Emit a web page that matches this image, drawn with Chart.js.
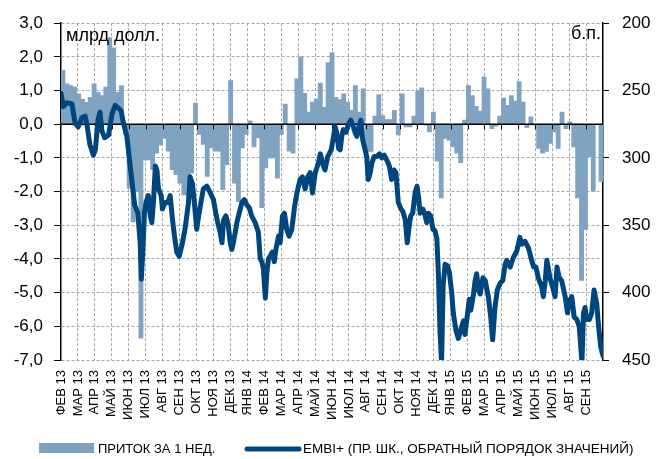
<!DOCTYPE html>
<html>
<head>
<meta charset="utf-8">
<title>Притоки и EMBI+</title>
<script src="https://cdn.jsdelivr.net/npm/chart.js@4.4.1/dist/chart.umd.min.js"></script>
<style>
  html, body { margin: 0; padding: 0; background: #fff; }
  #wrap { width: 656px; height: 459px; }
</style>
</head>
<body>
<div id="wrap"><canvas id="flowsChart" width="656" height="459"></canvas></div>
<script>
// подписи месяцев на оси X
const monthLabels = ['ФЕВ 13', 'МАР 13', 'АПР 13', 'МАЙ 13', 'ИЮН 13', 'ИЮЛ 13', 'АВГ 13', 'СЕН 13',
  'ОКТ 13', 'НОЯ 13', 'ДЕК 13', 'ЯНВ 14', 'ФЕВ 14', 'МАР 14', 'АПР 14', 'МАЙ 14', 'ИЮН 14', 'ИЮЛ 14',
  'АВГ 14', 'СЕН 14', 'ОКТ 14', 'НОЯ 14', 'ДЕК 14', 'ЯНВ 15', 'ФЕВ 15', 'МАР 15', 'АПР 15', 'МАЙ 15',
  'ИЮН 15', 'ИЮЛ 15', 'АВГ 15', 'СЕН 15'];

// приток за неделю, млрд долл. (одно значение на неделю)
const weeklyFlows = [
  1.6, 1.2, 1.15, 1.1, 0.9, 0.75, 0.65, 0.8, 1.2, 0.95, 0.85, 1.1, 2.57, 2.27, 0.95, 1.15,
  -0.3, -1.9, -2.9, -2.0, -6.35, -1.06, -1.06, -1.35, -0.86, -0.62, -0.42, -0.8, -1.35, -1.5, -1.75, -2.1, -2.1, -1.45,
  0.63, -0.3, -0.6, -1.55, -0.7, -0.8, -0.8, -1.94, -1.2, 1.3, -1.75, -2.3, -0.7, -0.3, 0.1, -0.67, -0.4, -2.48,
  -1.3, -1.0, -1.0, -1.6, -0.3, 0.6, -0.8, -0.86, 1.35, 2.0, 0.92, 0.36, 0.66, 0.75, 1.22, 0.5, 1.83,
  2.13, 0.8, 0.73, 0.9, 0.66, 0.41, 1.15, 0.36, 1.05, -0.81, -0.81, 0.24, 0.88, 0.26, 0.14, 0.14, 0.41, -0.32, 0.9,
  -0.08, -0.08, 0.24, 0.98, 1.08, -0.03, -0.23, 0.36, -1.1, -2.19, -0.42, -0.47, -0.67, -0.86, -1.14, 0.12,
  1.15, 0.85, 0.53, 0.39, 1.41, 1.05, -0.13, -0.06, 0.24, 0.78, 0.56, 0.85, 0.69, 1.27, 0.66, -0.1, 0.22, -0.03,
  -0.72, -0.86, -0.81, -0.57, -0.23, -0.72, 0.36, -0.13, 0.07, -0.67, -2.19, -4.64, -3.12, -0.96, -1.99, 0, -1.7
];

// EMBI+, б.п.: положение точки (в неделях от начала) и значение
const embiWeek = [
  0, 0.6, 1.5, 2.8, 3.6, 4.4, 5.4, 6.2, 6.7, 7.4, 8.3, 8.8, 9.5, 10, 10.5, 11.2, 12.2, 13.1, 13.9, 14.7,
  15.4, 16, 16.9, 17.7, 18.3, 18.9, 19.7, 20.3, 20.6, 21, 21.4, 21.8, 22.4, 22.9, 23.3, 23.7, 24.2, 24.6, 25, 25.7,
  26, 26.7, 27.4, 28, 28.6, 29.1, 29.7, 30.3, 31, 31.8, 32.7, 33.1, 33.7, 34.2, 34.8, 35.3, 35.9, 36.5, 37.4, 38.3,
  39.1, 39.7, 40.2, 40.8, 41.3, 41.7, 42.3, 42.9, 43.4, 43.8, 44.2, 44.7, 45.1, 45.7, 46.4, 47, 47.7, 48.3, 48.9, 49.8,
  50.6, 51.1, 51.5, 51.9, 52.4, 52.8, 53.2, 53.6, 54.2, 54.7, 55.1, 55.8, 56.2, 56.8, 57.3, 57.9, 58.5, 59.2, 59.9, 60.5,
  61.3, 61.9, 62.6, 63.3, 63.9, 64.5, 65.2, 66, 66.5, 67.1, 67.7, 68.4, 69.3, 69.9, 70.3, 70.7, 71.2, 71.6, 72, 72.4,
  73.1, 73.7, 74.3, 75, 75.4, 75.9, 76.3, 76.9, 77.4, 78, 78.4, 78.8, 79.3, 79.7, 80.3, 81, 81.7, 82.3, 82.9, 83.6,
  84.2, 84.8, 85.4, 85.9, 86.5, 87.2, 87.7, 88.3, 88.8, 89.4, 89.7, 90.2, 90.8, 91.3, 91.7, 92.1, 92.8, 93.4, 93.8, 94.2,
  94.8, 95.4, 95.9, 96.4, 96.8, 97.2, 97.6, 98, 98.5, 99.1, 99.6, 100.2, 100.6, 101.3, 101.9, 102.5, 103.2, 103.6, 104.2, 104.7,
  105.1, 105.8, 106.2, 106.6, 107.1, 107.5, 108.2, 108.8, 109.6, 110.2, 110.7, 111.3, 111.9, 112.6, 113.3, 113.9, 114.3, 115.2, 116, 116.9,
  117.7, 118.2, 119, 119.9, 120.7, 121.2, 121.8, 122.4, 123.3, 123.7, 124.2, 124.6, 125.4, 126.1, 126.7, 127.2, 127.8, 128.4, 129.3, 129.9,
  130.4, 131, 131.6, 132.3, 132.9, 133.6, 134, 134.4, 134.8, 135.5, 136.1, 136.7, 137.4, 137.8, 138.4, 139
];
const embiBp = [
  252, 262, 259, 260, 274, 277, 270, 269, 276, 290, 298, 294, 272, 266, 280, 285, 283, 267, 261, 263,
  265, 274, 284, 305, 320, 335, 341, 363, 390, 368, 341, 333, 328, 343, 348, 333, 306, 309, 323, 328,
  338, 333, 333, 328, 346, 358, 370, 373, 365, 353, 333, 314, 319, 333, 353, 343, 333, 323, 321, 326,
  331, 341, 348, 355, 363, 346, 343, 350, 363, 368, 363, 355, 348, 341, 333, 331, 335, 337, 343, 348,
  355, 375, 377, 382, 404, 385, 375, 373, 370, 377, 368, 358, 363, 343, 341, 353, 358, 353, 336, 326,
  316, 314, 323, 314, 311, 326, 311, 304, 297, 304, 309, 299, 294, 284, 277, 281, 293, 294, 284, 279,
  281, 275, 272, 277, 281, 284, 278, 272, 287, 294, 299, 316, 311, 304, 299, 299, 297, 300, 298, 302,
  306, 316, 309, 311, 333, 338, 340, 346, 363, 348, 343, 341, 326, 321, 329, 341, 338, 343, 348, 341,
  343, 353, 354, 360, 387, 429, 452, 395, 379, 380, 385, 400, 415, 428, 434, 428, 421, 431, 417, 405,
  413, 401, 391, 386, 398, 401, 389, 391, 403, 418, 435, 411, 398, 393, 391, 379, 376, 381, 374, 369,
  359, 364, 362, 367, 376, 381, 381, 389, 396, 403, 391, 376, 389, 396, 403, 381, 389, 391, 403, 415,
  406, 403, 418, 420, 425, 452, 415, 411, 420, 420, 415, 398, 408, 423, 440, 447
];

const FONT = "'Liberation Sans', Arial, sans-serif";
const BAR_COLOR = '#7fa3c1';
const LINE_COLOR = '#00467e';
const GRID_COLOR = '#a6a6a6';

const MONTHS = monthLabels.length;
const WEEKS = weeklyFlows.length;
const toMonth = w => w * MONTHS / WEEKS;

const barData = weeklyFlows.map((v, k) => ({ x: toMonth(k + 0.5), y: v }));
const lineData = embiWeek.map((w, i) => ({ x: toMonth(w), y: embiBp[i] }));

// ширина столбика = ширина области графика / число недель (поля осей заданы ниже)
const LEFT_AXIS_W = 61;
const RIGHT_AXIS_W = 53;
const barWidth = (656 - LEFT_AXIS_W - RIGHT_AXIS_W) / WEEKS + 0.3;

// нулевая линия поверх столбиков и засечки месяцев под ней
const zeroAxis = {
  id: 'zeroAxis',
  afterDatasetDraw(chart, args) {
    if (args.index !== 0) return;
    const { ctx, chartArea, scales } = chart;
    const y0 = scales.y.getPixelForValue(0);
    ctx.save();
    ctx.strokeStyle = '#000';
    ctx.lineWidth = 1.5;
    ctx.beginPath();
    ctx.moveTo(chartArea.left, y0);
    ctx.lineTo(chartArea.right, y0);
    ctx.stroke();
    ctx.lineWidth = 1;
    ctx.beginPath();
    for (let i = 1; i < MONTHS; i++) {
      const x = Math.round(scales.x.getPixelForValue(i)) + 0.5;
      ctx.moveTo(x, y0);
      ctx.lineTo(x, y0 + 5);
    }
    ctx.stroke();
    ctx.restore();
  }
};

// подписи единиц и легенда внизу
const extras = {
  id: 'extras',
  afterDraw(chart) {
    const { ctx, chartArea } = chart;
    ctx.save();
    ctx.fillStyle = '#000';
    ctx.textBaseline = 'alphabetic';
    ctx.font = '18px ' + FONT;
    ctx.textAlign = 'left';
    ctx.fillText('млрд долл.', chartArea.left + 5, 41);
    ctx.textAlign = 'right';
    ctx.fillText('б.п.', chartArea.right - 2, 39);

    const ly = 448;
    ctx.fillStyle = BAR_COLOR;
    ctx.fillRect(39, ly - 5, 55, 10);
    ctx.strokeStyle = LINE_COLOR;
    ctx.lineWidth = 5;
    ctx.lineCap = 'round';
    ctx.beginPath();
    ctx.moveTo(247, ly + 1);
    ctx.lineTo(299, ly + 1);
    ctx.stroke();
    ctx.fillStyle = '#000';
    ctx.textAlign = 'left';
    ctx.textBaseline = 'middle';
    ctx.font = '13px ' + FONT;
    ctx.fillText('ПРИТОК ЗА 1 НЕД.', 98, ly + 1);
    ctx.font = '13.5px ' + FONT;
    ctx.fillText('EMBI+ (ПР. ШК., ОБРАТНЫЙ ПОРЯДОК ЗНАЧЕНИЙ)', 303, ly + 1);
    ctx.restore();
  }
};

const ctx = document.getElementById('flowsChart').getContext('2d');
new Chart(ctx, {
  type: 'bar',
  data: {
    datasets: [
      {
        type: 'bar',
        label: 'ПРИТОК ЗА 1 НЕД.',
        data: barData,
        backgroundColor: BAR_COLOR,
        borderWidth: 0,
        barThickness: barWidth,
        yAxisID: 'y',
        order: 2
      },
      {
        type: 'line',
        label: 'EMBI+ (ПР. ШК., ОБРАТНЫЙ ПОРЯДОК ЗНАЧЕНИЙ)',
        data: lineData,
        borderColor: LINE_COLOR,
        borderWidth: 5,
        borderJoinStyle: 'round',
        borderCapStyle: 'round',
        pointRadius: 0,
        tension: 0,
        yAxisID: 'y1',
        order: 1
      }
    ]
  },
  options: {
    responsive: false,
    animation: false,
    layout: { padding: { top: 20, left: 0, right: 0, bottom: 0 } },
    plugins: {
      legend: { display: false },
      tooltip: { enabled: false }
    },
    scales: {
      x: {
        type: 'linear',
        offset: false,
        min: 0,
        max: MONTHS,
        afterBuildTicks: s => {
          s.ticks = [];
          for (let i = 0; i <= MONTHS; i++) s.ticks.push({ value: i });
        },
        afterFit: s => { s.height = 99; },
        grid: {
          offset: false,
          color: c => (c.tick && (c.tick.value === 0 || c.tick.value === MONTHS)) ? 'rgba(0,0,0,0)' : GRID_COLOR,
          lineWidth: 1,
          drawTicks: false
        },
        border: { display: false, dash: [3, 2] },
        ticks: {
          autoSkip: false,
          minRotation: 90,
          maxRotation: 90,
          padding: 10,
          color: '#000',
          font: { family: FONT, size: 13 },
          callback: v => monthLabels[v] || ''
        }
      },
      y: {
        position: 'left',
        min: -7,
        max: 3,
        afterFit: s => { s.width = LEFT_AXIS_W; },
        grid: {
          color: c => (c.tick && c.tick.value === 0) ? 'rgba(0,0,0,0)' : GRID_COLOR,
          tickColor: '#000',
          tickLength: 7,
          tickBorderDash: []
        },
        border: { display: true, color: '#000', width: 1.5, dash: [3, 2] },
        ticks: {
          stepSize: 1,
          padding: 11,
          color: '#000',
          font: { family: FONT, size: 17 },
          callback: v => v.toFixed(1).replace('.', ',')
        }
      },
      y1: {
        position: 'right',
        reverse: true,
        min: 200,
        max: 450,
        afterFit: s => { s.width = RIGHT_AXIS_W; },
        grid: { drawOnChartArea: false, tickColor: '#000', tickLength: 6 },
        border: { display: true, color: '#000', width: 1.5 },
        ticks: {
          stepSize: 50,
          padding: 13,
          color: '#000',
          font: { family: FONT, size: 17 }
        }
      }
    }
  },
  plugins: [zeroAxis, extras]
});
</script>
</body>
</html>
